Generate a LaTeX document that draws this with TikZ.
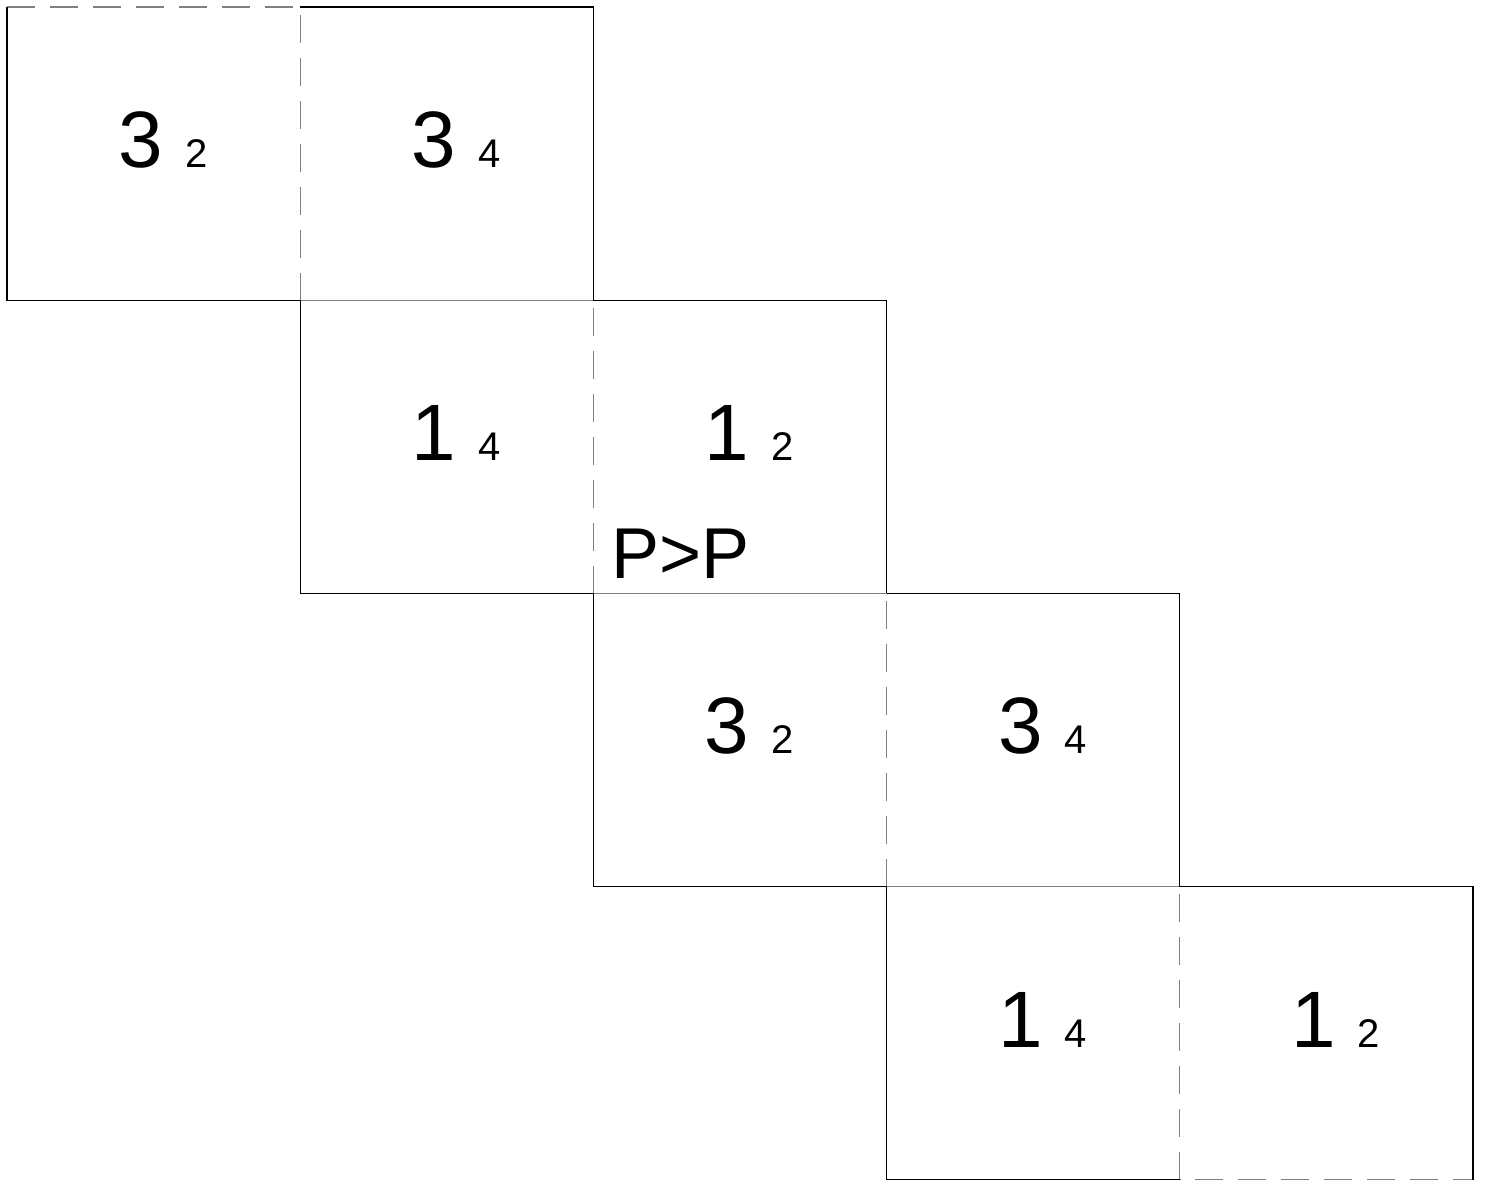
\documentclass[tikz,border=0pt]{standalone}
\usepackage{fontspec}
\setmainfont{Liberation Sans}
\usepackage{tikz}
\usepackage{xcolor}
\definecolor{ColFold}{RGB}{128,128,128}
\newcommand{\BigNum}{\fontsize{40}{48}\selectfont}
\newcommand{\SmallNum}{\fontsize{20}{24}\selectfont}
\tikzstyle{EdgeSolid}=[black,line width=0.6pt]
\tikzstyle{EdgeFold}=[ColFold,line width=0.6pt,dash pattern=on 14pt off 7.5pt]
\tikzstyle{NodeLabel}=[anchor=base west,inner sep=0pt,outer sep=0pt]
\begin{document}
\begin{tikzpicture}[x=146.6pt,y=-146.6pt]
        \useasboundingbox(-0.0239,-0.0239)rectangle(5.092,4.031);
        \foreach \k/\a/\b/\c/\d in {0/3/2/3/4,1/1/4/1/2,2/3/2/3/4,3/1/4/1/2}{
        \draw[EdgeFold](\k,\k)--(\k+1,\k)--(\k+1,\k+1)--(\k+2,\k+1);
        \draw[EdgeSolid](\k,\k)--(\k,\k+1)--(\k+1,\k+1);
        \draw[EdgeSolid](\k+1,\k)--(\k+2,\k)--(\k+2,\k+1);
        \node[NodeLabel](L\k)at(\k+0.38,\k+0.547){\BigNum\a{} {\SmallNum\b}};
        \node[NodeLabel](R\k)at(\k+1.38,\k+0.547){\BigNum\c{} {\SmallNum\d}};
        }
        \node[NodeLabel](pp)at(2.061,1.948){\fontsize{36}{43}\selectfont P>P};
    \end{tikzpicture}
\end{document}
